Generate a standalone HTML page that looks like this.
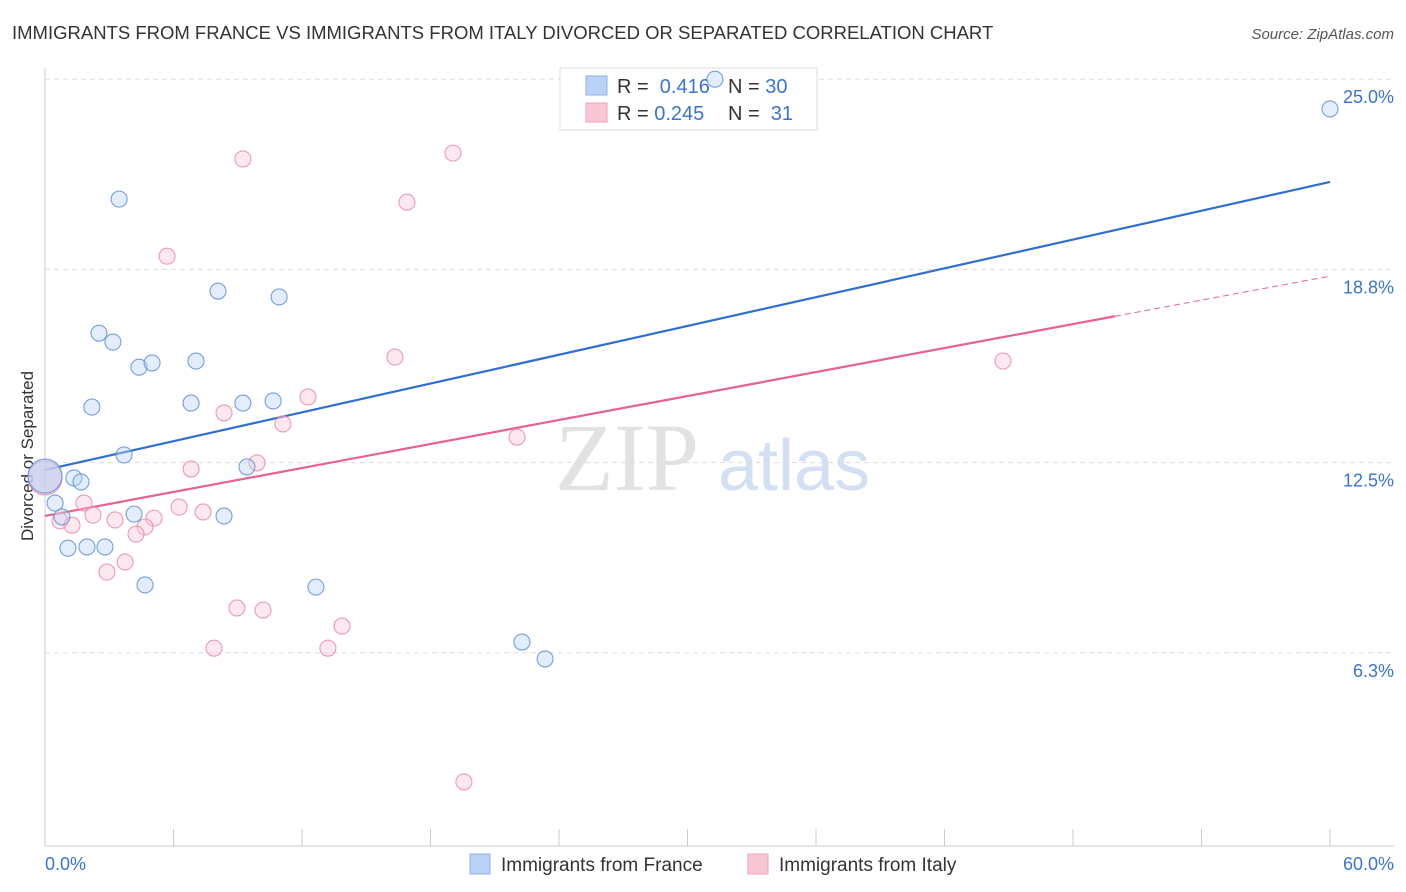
<!DOCTYPE html>
<html><head><meta charset="utf-8">
<style>
body{margin:0;background:#fff;font-family:"Liberation Sans",sans-serif;}
svg{display:block}
</style></head>
<body>
<svg id="chart" width="1406" height="892" viewBox="0 0 1406 892">
<text x="12" y="39" font-size="18.5" fill="#333">IMMIGRANTS FROM FRANCE VS IMMIGRANTS FROM ITALY DIVORCED OR SEPARATED CORRELATION CHART</text>
<text x="1394" y="39" font-size="15" fill="#555" font-style="italic" text-anchor="end">Source: ZipAtlas.com</text>
<text x="33" y="456" font-size="17" fill="#333" text-anchor="middle" transform="rotate(-90 33 456)">Divorced or Separated</text>
<text x="555" y="490" font-size="96" fill="#e2e2e2" font-family="Liberation Serif,serif">ZIP</text>
<text x="718" y="490" font-size="72" fill="#d3e0f3">atlas</text>
<g id="grid"></g>
<g id="lines"></g>
<g>
<rect x="560" y="68" width="257" height="62" fill="#fff" stroke="#ddd"/>
<rect x="586" y="76" width="21" height="19" fill="#b9d2f5" stroke="#8fb2e6"/>
<rect x="586" y="103" width="21" height="19" fill="#f9c6d4" stroke="#eea2b9"/>
<text x="617" y="93" font-size="20" fill="#333">R = <tspan fill="#3a74d0">&#160;0.416</tspan></text>
<text x="728" y="93" font-size="20" fill="#333">N = <tspan fill="#3a74d0">30</tspan></text>
<text x="617" y="120" font-size="20" fill="#333">R = <tspan fill="#3a74d0">0.245</tspan></text>
<text x="728" y="120" font-size="20" fill="#333">N = <tspan fill="#3a74d0">&#160;31</tspan></text>
</g>
<g id="pts"></g>
<g>
<rect x="470" y="854" width="20" height="20" fill="#b9d2f5" stroke="#8fb2e6"/>
<text x="501" y="871" font-size="19" fill="#333">Immigrants from France</text>
<rect x="748" y="854" width="20" height="20" fill="#f9c6d4" stroke="#eea2b9"/>
<text x="779" y="871" font-size="19" fill="#333">Immigrants from Italy</text>
</g>
<text x="45" y="870" font-size="18" fill="#3a74d0">0.0%</text>
<text x="1394" y="870" font-size="18" fill="#3a74d0" text-anchor="end">60.0%</text>
</svg>
<script>
const yTicks=[25.0,18.8,12.5,6.3];
const yTickLabels=["25.0%","18.8%","12.5%","6.3%"];
const franceX=[3.46,8.08,10.93,2.52,3.17,4.39,5.00,7.05,2.19,6.82,9.24,10.65,3.69,9.43,1.35,1.68,0.47,0.79,4.16,8.36,1.07,1.96,2.80,4.67,12.65,22.27,23.35,31.28,60.0,0];
const franceY=[21.09,18.09,17.90,16.72,16.43,15.61,15.75,15.81,14.31,14.44,14.44,14.51,12.75,12.36,12.00,11.87,11.18,10.73,10.82,10.76,9.71,9.75,9.75,8.51,8.44,6.65,6.10,25.00,24.03,12.06];
const italyX=[9.24,19.05,16.90,5.70,16.34,44.73,12.28,8.36,11.11,22.04,6.82,9.90,1.82,2.24,6.26,7.38,3.27,5.09,0.70,1.26,4.67,4.25,3.74,2.89,8.96,10.18,13.87,7.89,13.21,19.56,0];
const italyY=[22.40,22.59,20.99,19.23,15.94,15.81,14.64,14.12,13.76,13.33,12.29,12.49,11.18,10.79,11.05,10.89,10.63,10.69,10.60,10.46,10.40,10.17,9.26,8.93,7.76,7.69,7.17,6.45,6.45,2.09,12.0];
const franceTrend=[12.26,21.65];
const italyTrend=[10.76,18.58];
const italySolidEnd=49.96;
const X=v=>45+v/60*1285;
const Y=v=>846-v/6.25*191.7;
const NS="http://www.w3.org/2000/svg";
function mk(t,a,p){const e=document.createElementNS(NS,t);for(const k in a)e.setAttribute(k,a[k]);p.appendChild(e);return e;}
const grid=document.getElementById('grid');
yTicks.forEach((t,i)=>{
 const l=mk('line',{x1:45,x2:1394,y1:Y(t),y2:Y(t),stroke:'#ddd','stroke-dasharray':'5,4'},grid);
 
 
 const tx=mk('text',{x:1394,y:Y(t)+24,'font-size':18,fill:'#3a74d0','text-anchor':'end'},grid);
 tx.textContent=yTickLabels[i];
 
 
});
const ax=mk('line',{x1:45,x2:1394,y1:846,y2:846,stroke:'#ccc'},grid);


const ay=mk('line',{x1:45,x2:45,y1:68,y2:846,stroke:'#ccc'},grid);


for(let i=0;i<=10;i++){const t=mk('line',{x1:X(i*6),x2:X(i*6),y1:829,y2:846,stroke:'#ccc'},grid);
 
 }
const L=document.getElementById('lines');
const bl=mk('line',{x1:X(0),y1:Y(franceTrend[0]),x2:X(60),y2:Y(franceTrend[1]),stroke:'#2f6fd0','stroke-width':2.2},L);


const py=v=>italyTrend[0]+(italyTrend[1]-italyTrend[0])*v/60;
const pl=mk('line',{x1:X(0),y1:Y(py(0)),x2:X(italySolidEnd),y2:Y(py(italySolidEnd)),stroke:'#e8628f','stroke-width':2.2},L);


const pd=mk('line',{x1:X(italySolidEnd),y1:Y(py(italySolidEnd)),x2:X(60),y2:Y(py(60)),stroke:'#e8628f','stroke-width':1,'stroke-dasharray':'6,4'},L);


const P=document.getElementById('pts');
function pts(xs,ys,fill,stroke,name){xs.forEach((x,i)=>{const big=(x===0);
 const c=mk('circle',{cx:X(x),cy:Y(ys[i]),r:big?17:8,fill:fill,'fill-opacity':big?0.6:0.4,stroke:stroke,'stroke-width':1.1,'stroke-opacity':0.85},P);
 
 });}
pts(italyX,italyY,'#f9c6d4','#e98aa8','italy-point');
pts(franceX,franceY,'#b9d2f5','#5d8fd9','france-point');
</script>
</body></html>
